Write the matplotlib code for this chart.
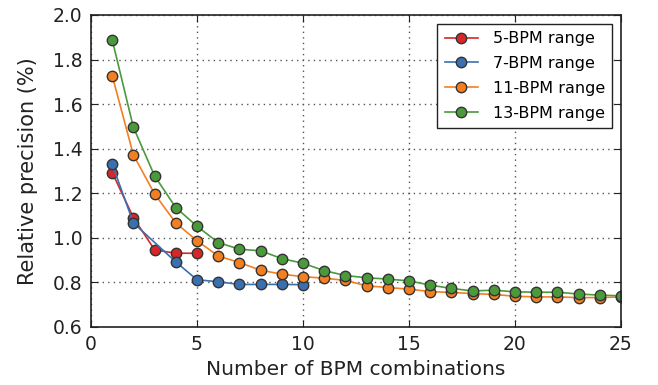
import matplotlib
matplotlib.use("Agg")
import matplotlib.pyplot as plt

x5 = [1, 2, 3, 4, 5]
y5 = [1.293, 1.091, 0.946, 0.931, 0.931]

x7 = [1, 2, 4, 5, 6, 7, 8, 9, 10]
y7 = [1.330, 1.067, 0.892, 0.812, 0.803, 0.791, 0.791, 0.791, 0.790]

x11 = list(range(1, 26))
y11 = [1.728, 1.372, 1.197, 1.067, 0.987, 0.919, 0.889, 0.855, 0.837, 0.826,
       0.819, 0.809, 0.785, 0.777, 0.770, 0.759, 0.755, 0.750, 0.746, 0.738,
       0.735, 0.735, 0.732, 0.732, 0.735]

x13 = list(range(1, 26))
y13 = [1.889, 1.496, 1.278, 1.136, 1.052, 0.979, 0.949, 0.942, 0.907, 0.886,
       0.853, 0.831, 0.821, 0.815, 0.807, 0.788, 0.773, 0.762, 0.765, 0.758,
       0.756, 0.756, 0.748, 0.743, 0.740]

labels = ["5-BPM range", "7-BPM range", "11-BPM range", "13-BPM range"]
colors = ["#d62728", "#3a6fb0", "#f47f20", "#4a9a3c"]

plt.rcParams['font.family'] = ['DejaVu Sans']
fig = plt.figure(figsize=(6.58, 3.85), dpi=100)
ax = fig.add_axes([91/658, 1 - 327/385, (621-91)/658, (327-15)/385])

for xs, ys, lab, c in zip([x5, x7, x11, x13], [y5, y7, y11, y13], labels, colors):
    ax.plot(xs, ys, '-o', color=c, lw=1.2, ms=7.5, mec='#333333', mew=1.0, label=lab)

ax.set_xlim(0, 25)
ax.set_ylim(0.6, 2.0)
ax.set_xticks([0, 5, 10, 15, 20, 25])
ax.set_yticks([0.6, 0.8, 1.0, 1.2, 1.4, 1.6, 1.8, 2.0])
ax.set_yticklabels(["0.6", "0.8", "1.0", "1.2", "1.4", "1.6", "1.8", "2.0"])
ax.grid(True, color='#555555', linestyle=(0, (1, 3)), lw=1.0)
ax.tick_params(direction='in', top=True, right=True, labelsize=13.5, colors='#222222', length=5, pad=6)
for s in ax.spines.values():
    s.set_color('#222222')
    s.set_linewidth(1.2)
ax.set_xlabel("Number of BPM combinations", fontsize=14.5, color='#222222', labelpad=4)
ax.set_ylabel("Relative precision (%)", fontsize=15, color='#222222', labelpad=11)
leg = ax.legend(loc='upper right', fontsize=11.5, fancybox=False, edgecolor='#222222',
                framealpha=1, bbox_to_anchor=(612/658, 1 - 24/385), bbox_transform=fig.transFigure,
                borderaxespad=0.0, handlelength=2.1, handletextpad=0.9, labelspacing=0.62,
                borderpad=0.45)
leg.get_frame().set_linewidth(1.0)

fig.savefig("out.png", dpi=100)
